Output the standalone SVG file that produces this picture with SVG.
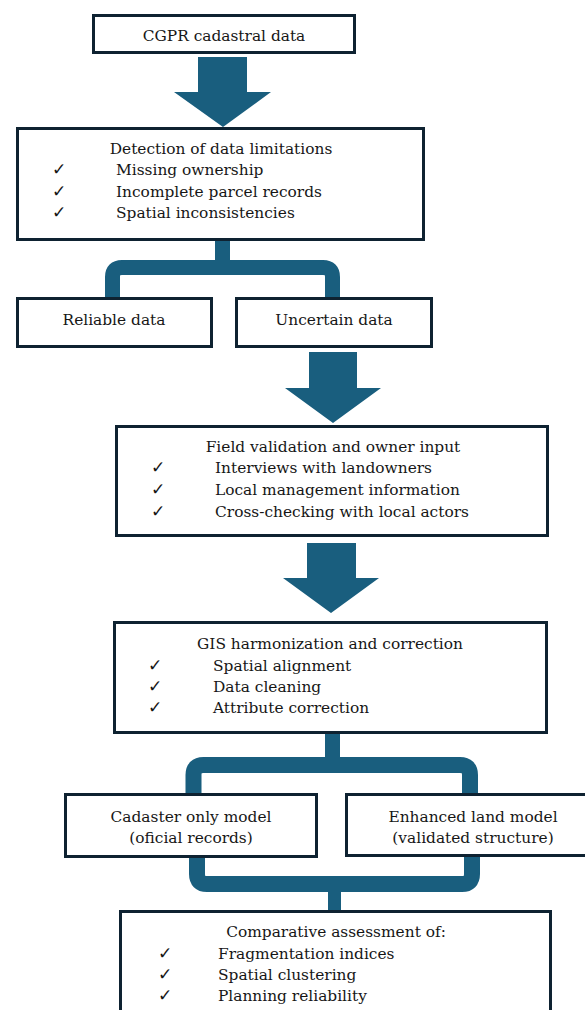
<svg xmlns="http://www.w3.org/2000/svg" width="585" height="1010" viewBox="0 0 585 1010">
<style>
.box{fill:#fff;stroke:#0e2231;stroke-width:3}
.t{font-family:"DejaVu Serif","Liberation Serif",serif;font-size:15.4px;fill:#161616}
.c{text-anchor:middle}
.ck{font-family:"DejaVu Sans",sans-serif;font-size:17px;fill:#161616}
.arr{fill:#195e7e}
.br{fill:none;stroke:#195e7e;stroke-width:15}
</style>
<rect width="585" height="1010" fill="#fff"/>
<g id="connectors">
<polygon class="arr" points="198,57 247,57 247,92 271,92 223,127 174,92 198,92"/>
<path class="br" d="M222.5,241 V268"/>
<path class="br" d="M112.5,297 V277 Q112.5,267.5 122,267.5 H323 Q332.5,267.5 332.5,277 V297"/>
<polygon class="arr" points="309,352 357,352 357,388 381,388 333,423 285,388 309,388"/>
<polygon class="arr" points="307,543 356,543 356,578 379,578 331,613 283,578 307,578"/>
<path class="br" d="M332.5,734 V766"/>
<path class="br" d="M193.5,794 V775 Q193.5,765 203.5,765 H460 Q470,765 470,775 V794" style="stroke-width:16"/>
<path class="br" d="M197,857 V874 Q197,884 207,884 H462 Q472,884 472,874 V857" style="stroke-width:16"/>
<path class="br" d="M334.5,883 V911" style="stroke-width:13"/>
</g>
<g id="n1">
<rect class="box" x="93.5" y="15.5" width="261" height="37"/>
<text class="t c" x="224" y="41">CGPR cadastral data</text>
</g>
<g id="n2">
<rect class="box" x="17.5" y="128.5" width="406" height="111"/>
<text class="t c" x="221" y="154">Detection of data limitations</text>
<text class="ck" x="52" y="175">✓</text>
<text class="ck" x="52" y="197">✓</text>
<text class="ck" x="52" y="218">✓</text>
<text class="t" x="116" y="175">Missing ownership</text>
<text class="t" x="116" y="197">Incomplete parcel records</text>
<text class="t" x="116" y="218">Spatial inconsistencies</text>
</g>
<g id="n3">
<rect class="box" x="17.5" y="298.5" width="194" height="48"/>
<text class="t c" x="114" y="325">Reliable data</text>
</g>
<g id="n4">
<rect class="box" x="236.5" y="298.5" width="195" height="48"/>
<text class="t c" x="334" y="325">Uncertain data</text>
</g>
<g id="n5">
<rect class="box" x="116.5" y="426.5" width="431" height="109"/>
<text class="t c" x="333" y="452">Field validation and owner input</text>
<text class="ck" x="151" y="473">✓</text>
<text class="ck" x="151" y="495">✓</text>
<text class="ck" x="151" y="517">✓</text>
<text class="t" x="215" y="473">Interviews with landowners</text>
<text class="t" x="215" y="495">Local management information</text>
<text class="t" x="215" y="517">Cross-checking with local actors</text>
</g>
<g id="n6">
<rect class="box" x="114.5" y="622.5" width="432" height="110"/>
<text class="t c" x="330" y="649">GIS harmonization and correction</text>
<text class="ck" x="148" y="671">✓</text>
<text class="ck" x="148" y="692">✓</text>
<text class="ck" x="148" y="713">✓</text>
<text class="t" x="213" y="671">Spatial alignment</text>
<text class="t" x="213" y="692">Data cleaning</text>
<text class="t" x="213" y="713">Attribute correction</text>
</g>
<g id="n7">
<rect class="box" x="65.5" y="794.5" width="251" height="62"/>
<text class="t c" x="191" y="822">Cadaster only model</text>
<text class="t c" x="191" y="843">(oficial records)</text>
</g>
<g id="n8">
<rect class="box" x="346.5" y="794.5" width="260" height="61"/>
<text class="t c" x="473" y="822">Enhanced land model</text>
<text class="t c" x="473" y="843">(validated structure)</text>
</g>
<g id="n9">
<rect class="box" x="120.5" y="911.5" width="430" height="120"/>
<text class="t c" x="336" y="937">Comparative assessment of:</text>
<text class="ck" x="158" y="959">✓</text>
<text class="ck" x="158" y="980">✓</text>
<text class="ck" x="158" y="1001">✓</text>
<text class="t" x="218" y="959">Fragmentation indices</text>
<text class="t" x="218" y="980">Spatial clustering</text>
<text class="t" x="218" y="1001">Planning reliability</text>
</g>
</svg>
